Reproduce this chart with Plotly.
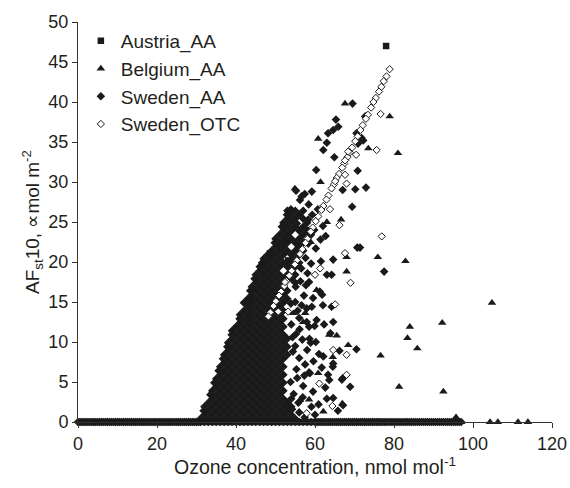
import plotly.graph_objects as go

# ---------------- data ----------------
# Austria_AA
aut_x = [78.0, 43.3, 43.4, 43.5, 43.6, 48.6, 53.2, 56.2, 55.7, 58.0]
aut_y = [47.0, 12.4, 13.4, 14.4, 15.4, 21.1, 20.2, 22.1, 22.1, 24.0]
aut_zero_x = [0.5, 2, 3.5, 5, 6.5, 8, 9.5, 11, 12.5, 14, 15.5, 17, 18.5, 20, 21.5, 23,
              24.5, 26, 27.5, 29, 30.5, 32, 33.5, 35, 36.5, 38, 39.5, 41, 42.5, 44, 45.5,
              47, 48.5, 50, 51.5, 53, 54.5, 56, 57.5, 59, 60.5, 62, 63.5, 65, 66.5, 68,
              69.5, 71, 72.5, 74, 75.5, 77]

# Belgium_AA
bel_x = [67.6, 78.9, 81.0, 60.8, 73.5, 61.4, 54.9, 63.0, 66.6, 52.4, 52.4, 58.9, 68.0,
         75.9, 82.9, 68.0, 60.4, 57.5, 57.0, 84.0, 92.2, 83.4, 85.9, 76.6, 81.3, 92.5,
         95.7, 104.8, 63.6, 65.5, 68.4, 64.5, 60.8, 58.5, 66.9, 62.1, 56.2, 53.2, 50.6,
         54.5]
bel_y = [39.8, 38.2, 33.6, 35.4, 34.2, 30.0, 29.2, 25.0, 25.3, 24.4, 22.8, 22.5, 20.6,
         20.6, 20.1, 18.8, 16.5, 13.6, 12.5, 11.9, 12.4, 10.5, 9.2, 8.3, 4.4, 3.8,
         0.6, 14.9, 10.9, 10.8, 9.6, 8.1, 6.1, 2.8, 2.3, 1.3, 2.75, 1.9, 22.1,
         13.6]
bel_zero_x = [40, 48, 55, 62, 70, 76, 83, 88, 91, 94, 97, 104.3, 106.3, 111.4, 113.9]

# Sweden_AA : dense cloud, read row by row (row height, x positions in that row)
swe_cloud_y = [0.4, 0.9, 1.4, 1.9, 2.4, 2.9, 3.4, 3.9, 4.4, 4.9, 5.4, 5.9, 6.4, 6.9,
               7.4, 7.9, 8.4, 8.9, 9.4, 9.9, 10.4, 10.9, 11.4, 11.9, 12.4, 12.9, 13.4,
               13.9, 14.4, 14.9, 15.4, 15.9, 16.4, 16.9, 17.4, 17.9, 18.4, 18.9, 19.4,
               19.9, 20.4, 20.9, 21.4, 21.9, 22.4, 22.9, 23.4, 23.9, 24.4, 24.9, 25.4,
               25.9, 26.4]
swe_cloud_x = [
    [31, 33, 35, 37, 39, 41, 43, 45, 47, 49, 51, 53, 55],
    [32, 34, 36, 38, 40, 42, 44, 46, 48, 50, 52, 54],
    [31.8, 33, 35, 37, 39, 41, 43, 45, 47, 49, 51, 53],
    [32, 34, 36, 38, 40, 42, 44, 46, 48, 50, 52, 54],
    [33, 35, 37, 39, 41, 43, 45, 47, 49, 51, 53],
    [34, 36, 38, 40, 42, 44, 46, 48, 50, 52, 54],
    [33.5, 35, 37, 39, 41, 43, 45, 47, 49, 51],
    [34, 36, 38, 40, 42, 44, 46, 48, 50, 52],
    [35, 37, 39, 41, 43, 45, 47, 49, 51],
    [34.5, 36, 38, 40, 42, 44, 46, 48, 50, 52],
    [35, 37, 39, 41, 43, 45, 47, 49, 51],
    [36, 38, 40, 42, 44, 46, 48, 50, 52],
    [35.6, 37, 39, 41, 43, 45, 47, 49, 51],
    [36, 38, 40, 42, 44, 46, 48, 50, 52],
    [37, 39, 41, 43, 45, 47, 49, 51],
    [36.7, 38, 40, 42, 44, 46, 48, 50, 52],
    [37, 39, 41, 43, 45, 47, 49, 51, 53],
    [38, 40, 42, 44, 46, 48, 50, 52],
    [37.8, 39, 41, 43, 45, 47, 49, 51, 53],
    [38, 40, 42, 44, 46, 48, 50, 52],
    [39, 41, 43, 45, 47, 49, 51, 53],
    [38.9, 40, 42, 44, 46, 48, 50, 52],
    [39, 41, 43, 45, 47, 49, 51],
    [40, 42, 44, 46, 48, 50, 52],
    [41, 43, 45, 47, 49, 51],
    [40.9, 42, 44, 46, 48, 50, 52],
    [41, 43, 45, 47, 49, 51],
    [42, 44, 46, 48, 50, 52],
    [43, 45, 47, 49, 51],
    [42, 44, 46, 48, 50, 52],
    [43, 45, 47, 49, 51, 53],
    [44, 46, 48, 50, 52],
    [43.6, 45, 47, 49, 51, 53],
    [44, 46, 48, 50, 52],
    [45, 47, 49, 51, 55],
    [44.7, 46, 48, 50, 52, 54],
    [45, 47, 49, 51, 53, 55],
    [46, 48, 50, 54],
    [46, 47, 49, 51, 53, 55],
    [46.6, 48, 50, 52, 54, 56],
    [47, 49, 51, 55],
    [48, 50, 52, 54, 56],
    [49, 51, 53, 55, 57],
    [50, 52, 56],
    [49.8, 51, 53, 55, 57],
    [50, 52, 54, 56],
    [51, 53, 57, 59],
    [52, 54, 56, 58],
    [51.6, 53, 55, 57],
    [52, 54, 58],
    [53, 55, 57],
    [52.9, 54, 56],
    [53, 55],
]
# Sweden_AA : scattered points
swe_x = [69.5, 65.3, 72.7, 63.3, 64.6, 65.9, 63.0, 62.1, 70.5, 71.8, 70.9, 72.2, 64.9,
         60.3, 70.8, 72.9, 70.2, 67.0, 56.6, 57.4, 59.2, 56.2, 57.0, 53.9, 69.4, 62.7,
         55.4, 70.7, 71.4, 64.6, 61.5, 77.5, 63.0, 64.2, 57.7, 62.0, 64.2, 59.2, 60.4,
         62.3, 64.6, 58.5, 57.9, 70.5, 62.1, 64.5, 58.5, 63.6, 66.8, 68.9, 63.0, 64.6,
         67.1, 67.1, 64.6, 58.7, 63.3,
         55.0, 56.0, 57.5, 55.5, 57.0, 59.5, 56.0, 60.0, 58.0, 59.6, 55.2, 56.8, 58.6,
         60.2, 61.0, 59.9, 56.0, 55.0, 57.2, 58.5, 56.3, 59.0, 57.6, 60.2, 61.4, 59.8,
         62.0, 61.2, 59.5, 57.9, 56.5, 58.3, 60.7, 58.3,
         54.2, 55.8, 54.6, 56.9, 53.8, 55.3, 57.3, 54.4, 56.1, 58.9, 54.0, 55.6, 60.9,
         62.6, 61.7, 59.1, 57.4, 53.9, 55.1, 56.6, 58.1, 54.3, 61.8, 65.8, 66.2, 63.9,
         58.4, 55.2, 59.3]
swe_y = [39.8, 37.8, 38.2, 36.1, 36.5, 36.9, 34.9, 34.0, 36.1, 35.5, 34.8, 35.2, 33.1,
         31.5, 31.4, 29.3, 29.1, 29.0, 28.2, 28.5, 28.8, 27.75, 26.4, 26.6, 26.9, 23.25,
         24.8, 21.8, 21.8, 20.3, 20.1, 18.8, 18.4, 18.4, 17.1, 14.6, 14.4, 14.4, 12.75,
         12.2, 12.5, 11.9, 12.5, 9.1, 8.2, 6.9, 6.2, 5.25, 5.3, 4.4, 2.9, 3.0,
         2.1, 5.5, 7.3, 6.1, 5.9,
         9.5, 8.0, 7.2, 5.5, 4.5, 3.8, 1.2, 0.9, 9.0, 7.6, 11.0, 10.3, 10.4,
         10.0, 8.5, 12.0, 13.0, 15.0, 15.8, 17.5, 17.6, 19.8, 20.5, 21.7, 22.8, 24.0,
         24.5, 16.3, 15.5, 14.2, 19.2, 22.3, 26.6, 25.3,
         1.6, 2.4, 3.5, 3.1, 5.0, 6.6, 5.8, 8.8, 11.6, 9.9, 12.2, 13.9, 2.2,
         4.3, 6.8, 1.9, 0.6, 14.8, 16.9, 14.6, 18.6, 10.6, 15.9, 1.4, 8.9, 11.1,
         27.2, 28.9, 25.9]
swe_zero_x = [0, 0.5, 1, 1.5, 2, 2.5, 3, 3.5, 4, 4.5, 5, 5.5, 6, 6.5, 7, 7.5, 8, 8.5, 9,
              9.5, 10, 10.5, 11, 11.5, 12, 12.5, 13, 13.5, 14, 14.5, 15, 15.5, 16, 16.5,
              17, 17.5, 18, 18.5, 19, 19.5, 20, 20.5, 21, 21.5, 22, 22.5, 23, 23.5, 24,
              24.5, 25, 25.5, 26, 26.5, 27, 27.5, 28, 28.5, 29, 29.5, 30, 30.5, 31, 32,
              33, 34, 35, 36, 37, 38, 39, 40, 41, 42, 43, 44, 45, 46, 47, 48, 49, 50, 51,
              52, 53, 54, 55, 56, 57, 58, 59, 60, 60.5, 61, 61.5, 62, 62.5, 63, 63.5, 64,
              64.5, 65, 65.5, 66, 66.5, 67, 67.5, 68, 68.5, 69, 69.5, 70, 70.5, 71, 71.5,
              72, 72.5, 73, 73.5, 74, 74.5, 75, 75.5, 76, 76.5, 77, 77.5, 78, 78.5, 79,
              79.5, 80, 80.5, 81, 81.5, 82, 82.5, 83, 83.5, 84, 84.5, 85, 85.5, 86, 86.5,
              87, 87.5, 88, 88.5, 89, 89.5, 90, 90.5, 91, 91.5, 92, 92.5, 93, 93.5, 94,
              94.5, 95, 95.5, 96, 96.5, 97]

# Sweden_OTC
otc_x = [78.9, 78.1, 77.4, 76.8, 76.2, 75.4, 74.8, 74.2, 73.4, 72.9, 72.1, 71.5, 70.8,
         70.2, 69.4, 68.8, 68.2, 67.4, 66.9, 66.1, 65.5, 64.8, 64.2, 63.4, 62.9, 62.1,
         61.6, 60.8, 60.2, 59.4, 58.9, 58.1, 57.6, 56.8, 56.2, 55.4, 54.9, 54.1, 53.5,
         52.8, 52.2, 51.4, 50.9, 50.1, 49.5, 48.7, 48.2,
         76.6, 75.6, 70.4, 68.4, 67.6, 67.6, 68.0, 65.1, 63.8, 66.2, 76.9, 67.6, 69.0,
         61.3, 60.0, 65.1, 68.0, 64.6, 68.0, 61.1, 64.4, 57.9, 52.4, 53.2, 50.7]
otc_y = [44.1, 43.2, 42.6, 41.9, 41.3, 40.5, 40.0, 39.3, 38.4, 37.9, 37.1, 36.5, 35.7,
         35.1, 34.3, 33.7, 33.1, 32.3, 31.8, 31.0, 30.5, 29.7, 29.2, 28.3, 27.8, 27.0,
         26.5, 25.7, 25.1, 24.3, 23.8, 22.9, 22.4, 21.6, 21.0, 20.2, 19.7, 18.9, 18.3,
         17.6, 17.0, 16.3, 15.8, 15.1, 14.5, 13.7, 13.2,
         38.5, 34.0, 33.4, 33.8, 32.7, 30.9, 29.8, 30.1, 26.6, 24.6, 23.2, 21.1, 17.4,
         19.2, 18.4, 14.7, 8.4, 9.0, 5.9, 4.8, 2.0, 1.1, 17.5, 13.8, 13.8]

x_ticks = [0, 20, 40, 60, 80, 100, 120]
y_ticks = [0, 5, 10, 15, 20, 25, 30, 35, 40, 45, 50]

# ---------------- assemble ----------------
cloud_x = [v for row in swe_cloud_x for v in row]
cloud_y = [yv for yv, row in zip(swe_cloud_y, swe_cloud_x) for _ in row]

A_x = aut_x + aut_zero_x
A_y = aut_y + [0] * len(aut_zero_x)
B_x = bel_x + bel_zero_x
B_y = bel_y + [0] * len(bel_zero_x)
S_x = swe_zero_x + cloud_x + swe_x
S_y = [0] * len(swe_zero_x) + cloud_y + swe_y

INK = "#1a1a1a"
FONT = "Liberation Sans, Arial, sans-serif"

fig = go.Figure()
fig.add_trace(go.Scatter(x=A_x, y=A_y, mode="markers", name="Austria_AA", cliponaxis=False,
                         marker=dict(symbol="square", size=6.5, color=INK, line=dict(width=0))))
fig.add_trace(go.Scatter(x=B_x, y=B_y, mode="markers", name="Belgium_AA", cliponaxis=False,
                         marker=dict(symbol="triangle-up", size=7.5, color=INK, line=dict(width=0))))
fig.add_trace(go.Scatter(x=S_x, y=S_y, mode="markers", name="Sweden_AA", cliponaxis=False,
                         marker=dict(symbol="diamond", size=6.6, color=INK, line=dict(width=0))))
fig.add_trace(go.Scatter(x=otc_x, y=otc_y, mode="markers", name="Sweden_OTC", cliponaxis=False,
                         marker=dict(symbol="diamond", size=5.6, color="white",
                                     line=dict(width=1, color=INK))))

fig.update_layout(
    width=570, height=488, autosize=False,
    margin=dict(l=78, r=18, t=22, b=66),
    paper_bgcolor="white", plot_bgcolor="white",
    font=dict(family=FONT, size=18, color="#231f20"),
    showlegend=True,
    legend=dict(x=0.006, y=1.0, xanchor="left", yanchor="top",
                bgcolor="rgba(0,0,0,0)", font=dict(size=19), itemsizing="trace"),
    xaxis=dict(range=[0, 120], tickvals=x_ticks, showgrid=False, zeroline=False,
               automargin=False,
               showline=True, linecolor="#333333", linewidth=1,
               ticks="outside", ticklen=5, tickcolor="#333333",
               title=dict(text="Ozone concentration, nmol mol<sup>-1</sup>",
                          font=dict(size=19.5), standoff=4)),
    yaxis=dict(range=[0, 50], tickvals=y_ticks, showgrid=False, zeroline=False,
               automargin=False,
               showline=True, linecolor="#333333", linewidth=1,
               ticks="outside", ticklen=5, tickcolor="#333333",
               title=dict(text="AF<sub>st</sub>10, \u221dmol m<sup>-2</sup>",
                          font=dict(size=19), standoff=3)),
)

fig.write_html(
    "out.html",
    config={"responsive": False, "displayModeBar": False},
    default_width="570px", default_height="488px",
    post_script="document.body.style.margin='0';document.body.style.overflow='hidden';",
)
